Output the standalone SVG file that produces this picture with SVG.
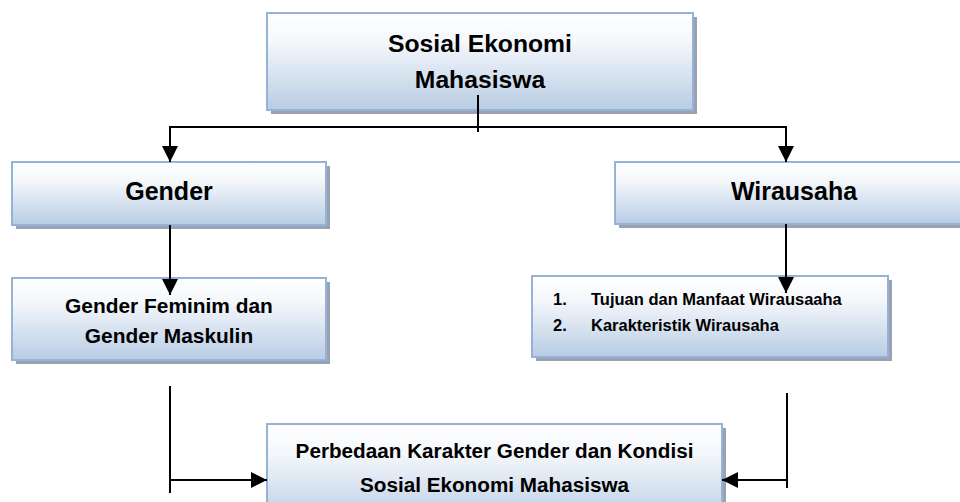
<svg xmlns="http://www.w3.org/2000/svg" width="960" height="502" viewBox="0 0 960 502">
<defs>
<linearGradient id="g" x1="0" y1="0" x2="0" y2="1">
<stop offset="0" stop-color="#ffffff"/>
<stop offset="0.3" stop-color="#f4f7fb"/>
<stop offset="1" stop-color="#b8cce4"/>
</linearGradient>
<marker id="arr" markerUnits="userSpaceOnUse" markerWidth="16" markerHeight="16" refX="16" refY="8" orient="auto" viewBox="0 0 16 16">
<path d="M0,0 L16,8 L0,16 z" fill="#000"/>
</marker>
<style>
.sh{fill:#9aa2b2}
.bx{fill:url(#g);stroke:#95b3d7;stroke-width:2}
.t{font-family:"Liberation Sans",Arial,sans-serif;font-weight:bold;fill:#000;text-anchor:middle}
.tl{font-family:"Liberation Sans",Arial,sans-serif;font-weight:bold;fill:#000}
.c{fill:none;stroke:#000;stroke-width:2}
</style>
</defs>
<rect width="960" height="502" fill="#fff"/>
<g id="node-sosial">
<rect class="sh" x="271" y="17" width="426" height="97"/>
<rect class="bx" x="267" y="13" width="426" height="97"/>
<text class="t" x="480" y="52" font-size="24.7">Sosial Ekonomi</text>
<text class="t" x="480" y="88" font-size="24.7">Mahasiswa</text>
</g>
<g id="node-gender">
<rect class="sh" x="16" y="166" width="314" height="63"/>
<rect class="bx" x="12" y="162" width="314" height="63"/>
<text class="t" x="169" y="200" font-size="25">Gender</text>
</g>
<g id="node-wirausaha">
<rect class="sh" x="619" y="166" width="360" height="62"/>
<rect class="bx" x="615" y="162" width="360" height="62"/>
<text class="t" x="794" y="200" font-size="25">Wirausaha</text>
</g>
<g id="node-feminim">
<rect class="sh" x="16" y="282" width="314" height="82"/>
<rect class="bx" x="12" y="278" width="314" height="82"/>
<text class="t" x="169" y="313" font-size="20.9">Gender Feminim dan</text>
<text class="t" x="169" y="343" font-size="20.9">Gender Maskulin</text>
</g>
<g id="node-list">
<rect class="sh" x="536" y="280" width="356" height="81"/>
<rect class="bx" x="532" y="276" width="356" height="81"/>
<text class="tl" x="553" y="305" font-size="16.5">1.</text>
<text class="tl" x="591" y="305" font-size="16.5">Tujuan dan Manfaat Wirausaaha</text>
<text class="tl" x="553" y="331" font-size="16.5">2.</text>
<text class="tl" x="591" y="331" font-size="16.5">Karakteristik Wirausaha</text>
</g>
<g id="node-perbedaan">
<rect class="sh" x="271" y="428" width="455" height="100"/>
<rect class="bx" x="267" y="424" width="455" height="100"/>
<text class="t" x="494.5" y="458" font-size="20.7">Perbedaan Karakter Gender dan Kondisi</text>
<text class="t" x="494.5" y="492" font-size="20.7">Sosial Ekonomi Mahasiswa</text>
</g>
<g id="connectors">
<path class="c" d="M478,95 V132"/>
<path class="c" d="M478,127 H170 V162" marker-end="url(#arr)"/>
<path class="c" d="M478,127 H786 V162" marker-end="url(#arr)"/>
<path class="c" d="M170,225 V295" marker-end="url(#arr)"/>
<path class="c" d="M786,224 V293" marker-end="url(#arr)"/>
<path class="c" d="M170,386 V493"/>
<path class="c" d="M170,480 H267" marker-end="url(#arr)"/>
<path class="c" d="M787,393 V488"/>
<path class="c" d="M787,480 H722" marker-end="url(#arr)"/>
</g>
</svg>
